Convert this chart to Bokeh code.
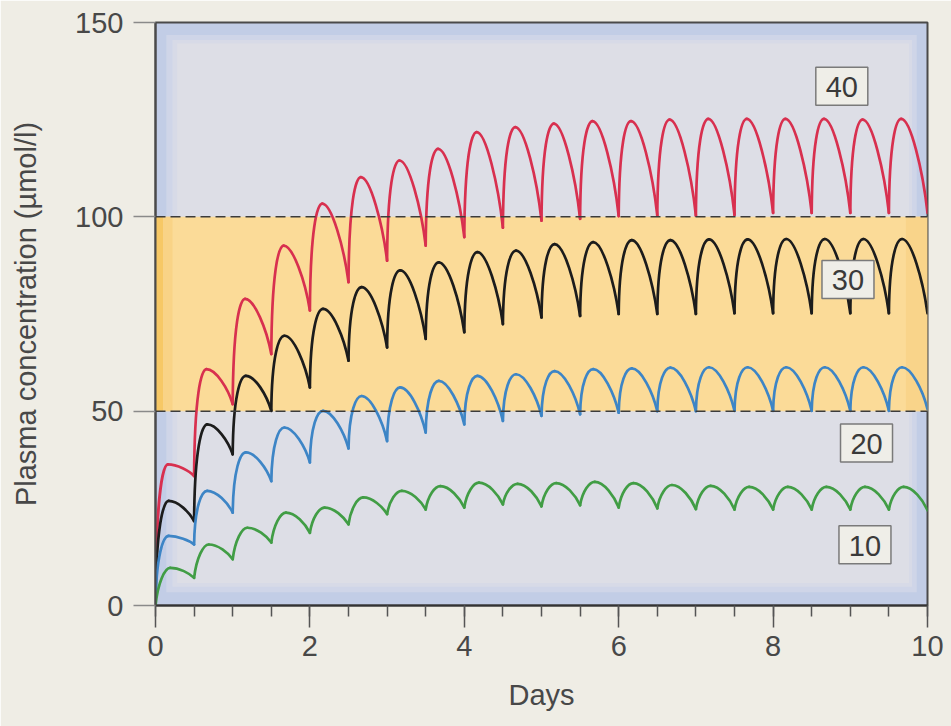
from bokeh.plotting import figure
from bokeh.models import ColumnDataSource, BoxAnnotation, Span, FixedTicker
from bokeh.core.properties import value
from bokeh.embed import file_html
from bokeh.resources import INLINE

# ---------------- data ----------------
dose_days = [0.0, 0.5, 1.0, 1.5, 2.0, 2.5, 3.0, 3.5, 4.0, 4.5,
             5.0, 5.5, 6.0, 6.5, 7.0, 7.5, 8.0, 8.5, 9.0, 9.5]
interval = 0.5
series_labels = ["40", "30", "20", "10"]

# concentration just before each dose (t = 0, 0.5, ..., 10)
red_trough = [0, 33.3, 51.8, 64.7, 75.9, 83.2, 88.7, 92.6, 94.8, 97.2, 99.0,
              99.5, 100.2, 100.3, 100.3, 100.5, 101.0, 101.0, 101.0, 101.0, 101.0]
black_trough = [0, 21.7, 38.9, 50.1, 56.1, 63.0, 66.4, 68.6, 70.3, 72.4, 74.1,
                74.5, 75.0, 75.0, 75.0, 75.2, 75.2, 75.2, 75.2, 75.2, 75.2]
blue_trough = [0, 15.7, 23.9, 32.0, 36.8, 40.4, 42.3, 44.5, 46.6, 47.5, 48.8,
               49.2, 49.6, 50.0, 50.0, 50.1, 50.1, 50.1, 50.1, 50.1, 50.5]
green_trough = [0, 7.1, 11.9, 16.2, 18.7, 20.9, 23.5, 24.7, 25.2, 26.0, 25.5,
                25.8, 25.2, 25.0, 24.8, 24.7, 24.7, 24.7, 24.7, 24.7, 24.5]

# peak concentration after each dose
red_peak = [36.3, 60.8, 78.9, 92.6, 103.4, 110.2, 114.5, 117.5, 121.8, 123.1,
            124.0, 124.6, 124.6, 125.0, 125.2, 125.2, 125.2, 125.2, 125.0, 125.2]
black_peak = [26.9, 46.6, 59.1, 69.4, 76.3, 81.9, 86.2, 88.3, 90.9, 91.3,
              93.0, 93.5, 94.0, 94.0, 94.2, 94.2, 94.3, 94.3, 94.3, 94.3]
blue_peak = [17.9, 29.5, 39.4, 45.8, 50.1, 53.9, 56.1, 57.8, 59.1, 59.5,
             60.3, 60.8, 61.0, 61.2, 61.3, 61.3, 61.3, 61.3, 61.3, 61.3]
green_peak = [9.7, 15.7, 20.0, 23.9, 25.2, 27.8, 29.5, 30.7, 31.6, 31.3,
              31.5, 31.8, 31.5, 31.0, 30.8, 30.5, 30.5, 30.5, 30.5, 30.5]

# time from dose to peak (days)
peak_delay = [0.16, 0.17, 0.17, 0.19]

therapeutic_range = [50, 100]
x_ticks = [0, 2, 4, 6, 8, 10]
y_ticks = [0, 50, 100, 150]

# ---------------- styling ----------------
FONT = "Liberation Sans"
TXT = "#484848"
PAGE = "#efede5"
colors = ["#d8304f", "#1c1c1c", "#3d85c6", "#419d45"]
troughs = [red_trough, black_trough, blue_trough, green_trough]
peaks = [red_peak, black_peak, blue_peak, green_peak]
rise_ctrl = [(0.006, 0.75), (0.006, 0.75), (0.008, 0.72), (0.03, 0.6)]
label_pos = [(8.89, 133.6), (8.97, 83.9), (9.21, 41.8), (9.19, 15.6)]

p = figure(width=951, height=726, x_range=(0, 10), y_range=(0, 150),
           output_backend="svg", toolbar_location=None,
           min_border_left=155, min_border_right=24,
           min_border_top=22, min_border_bottom=121)
p.background_fill_color = "#c2cde6"
p.border_fill_color = PAGE
p.outline_line_color = "#4a4a4a"
p.outline_line_width = 2
p.grid.visible = False

# soft inner panel
p.add_layout(BoxAnnotation(left=0.14, right=9.86, bottom=3.4, top=146.8,
                           fill_color="#cfd5e8", fill_alpha=1, line_alpha=0,
                           level="underlay"))
p.add_layout(BoxAnnotation(left=0.22, right=9.8, bottom=4.8, top=145.5,
                           fill_color="#d7dae7", fill_alpha=1, line_alpha=0,
                           level="underlay"))
p.add_layout(BoxAnnotation(left=0.28, right=9.76, bottom=5.8, top=144.6,
                           fill_color="#dddee6", fill_alpha=1, line_alpha=0,
                           level="underlay"))
# therapeutic range band
p.add_layout(BoxAnnotation(bottom=therapeutic_range[0], top=therapeutic_range[1],
                           fill_color="#fbdb98", fill_alpha=1, line_alpha=0,
                           level="underlay"))
p.add_layout(BoxAnnotation(left=0, right=0.1, bottom=therapeutic_range[0],
                           top=therapeutic_range[1],
                           fill_color="#f7c865", fill_alpha=1, line_alpha=0,
                           level="underlay"))
p.add_layout(BoxAnnotation(left=0.1, right=0.22, bottom=therapeutic_range[0],
                           top=therapeutic_range[1],
                           fill_color="#f9d386", fill_alpha=1, line_alpha=0,
                           level="underlay"))
p.add_layout(BoxAnnotation(left=9.72, right=10, bottom=therapeutic_range[0],
                           top=therapeutic_range[1],
                           fill_color="#f9d48a", fill_alpha=1, line_alpha=0,
                           level="underlay"))
for lvl in therapeutic_range:
    p.add_layout(Span(location=lvl, dimension="width", line_color="#3c3c3c",
                      line_width=1.5, line_dash="10 5"))

# curves: each dosing interval = rise to peak + decline to next trough
for s in range(4):
    tr, pk, col = troughs[s], peaks[s], colors[s]
    d = peak_delay[s]
    cdx, cfr = rise_ctrl[s]
    src = dict(x0=[], y0=[], x1=[], y1=[], cx0=[], cy0=[], cx1=[], cy1=[])
    for k, t0 in enumerate(dose_days):
        a, P, b = tr[k], pk[k], tr[k + 1]
        tp, t1 = t0 + d, t0 + interval
        # rise
        src["x0"].append(t0); src["y0"].append(a)
        src["cx0"].append(t0 + cdx); src["cy0"].append(a + cfr * (P - a))
        src["cx1"].append(tp - 0.07); src["cy1"].append(P)
        src["x1"].append(tp); src["y1"].append(P)
        # decline
        src["x0"].append(tp); src["y0"].append(P)
        src["cx0"].append(tp + 0.12); src["cy0"].append(P)
        src["cx1"].append(t1 - 0.06); src["cy1"].append(b + 0.45 * (P - b))
        src["x1"].append(t1); src["y1"].append(b)
    p.bezier(x0="x0", y0="y0", x1="x1", y1="y1", cx0="cx0", cy0="cy0",
             cx1="cx1", cy1="cy1", source=ColumnDataSource(src),
             line_color=col, line_width=2.7, line_cap="round")

# boxed dose labels
lx = [q[0] for q in label_pos]
ly = [q[1] for q in label_pos]
p.rect(x=lx, y=ly, width=52, height=38, width_units="screen",
       height_units="screen", fill_color="#efeee8", line_color="#7a7a7a",
       line_width=1.5)
p.text(x=lx, y=ly, text=series_labels, text_align="center",
       text_baseline="middle", text_font=value(FONT), text_font_size="29px",
       text_color="#3a3a3a", y_offset=1)

# axes
xa = p.xaxis[0]
xa.ticker = FixedTicker(ticks=x_ticks,
                        minor_ticks=[v * 0.5 for v in range(21)])
xa.axis_label = "Days"
xa.major_tick_in = 0
xa.major_tick_out = 22
xa.minor_tick_in = 0
xa.minor_tick_out = 11
xa.major_tick_line_color = "#555555"
xa.minor_tick_line_color = "#555555"
xa.major_tick_line_width = 1.5
xa.minor_tick_line_width = 1.5
xa.axis_line_color = "#333333"
xa.axis_line_width = 2
xa.major_label_standoff = 8
xa.axis_label_standoff = 20

ya = p.yaxis[0]
ya.ticker = FixedTicker(ticks=y_ticks, minor_ticks=[])
ya.axis_label = "Plasma concentration (µmol/l)"
ya.major_tick_in = 0
ya.major_tick_out = 22
ya.minor_tick_out = 0
ya.major_tick_line_color = "#8a8a8a"
ya.major_tick_line_width = 1.5
ya.axis_line_color = "#4a4a4a"
ya.axis_line_width = 2
ya.major_label_standoff = 10
ya.axis_label_standoff = 30

for ax in (xa, ya):
    ax.major_label_text_font = FONT
    ax.major_label_text_font_size = "29px"
    ax.major_label_text_color = TXT
    ax.axis_label_text_font = FONT
    ax.axis_label_text_font_size = "29px"
    ax.axis_label_text_font_style = "normal"
    ax.axis_label_text_color = TXT

open("out.html", "w").write(file_html(p, INLINE))
